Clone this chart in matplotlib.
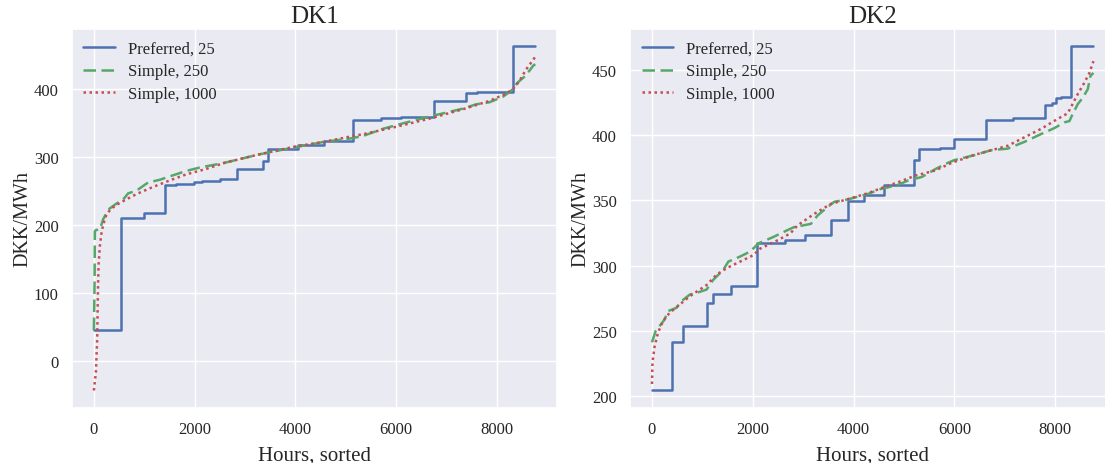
import matplotlib
matplotlib.use("Agg")
import matplotlib.pyplot as plt
import seaborn as sns

sns.set_theme(style="darkgrid")
plt.rcParams["font.family"] = ["Liberation Serif", "DejaVu Serif"]

regions = ["DK1", "DK2"]
series_labels = ["Preferred, 25", "Simple, 250", "Simple, 1000"]
x_label = "Hours, sorted"
y_label = "DKK/MWh"
total_hours = 8760

# ---- DK1 ----
# Preferred, 25: piecewise constant levels (start hour, DKK/MWh)
dk1_pref_hours = [0, 545, 1000, 1415, 1630, 1990, 2140, 2510, 2840, 3350, 3450,
                  4050, 4570, 5150, 5700, 6095, 6740, 7375, 7595, 8315]
dk1_pref_price = [45.5, 210, 217, 258, 260, 263, 264, 266.5, 282, 294, 312,
                  317, 323.5, 353.5, 357, 358.5, 382, 394, 395.5, 462.5]

# Simple, 250
dk1_s250_hours = [0, 15, 20, 40, 120, 185, 250, 317, 449, 581, 680, 845, 1076,
                  1307, 1571, 1835, 2099, 2596, 3258, 3457, 4000, 4583, 5113,
                  5340, 5736, 6132, 6660, 7320, 7584, 7848, 8112, 8277, 8409,
                  8574, 8719, 8760]
dk1_s250_price = [45, 120, 190, 192, 193, 208, 217, 224, 231, 237, 246, 250, 262,
                  266, 272.6, 279, 284, 291, 303, 306, 314, 322, 327,
                  330.5, 341, 349, 359, 370.6, 377, 380, 388, 396.6, 409,
                  419.6, 434, 436]

# Simple, 1000
dk1_s1000_hours = [0, 40, 66, 79, 92, 119, 152, 185, 250, 350, 515, 845, 1175,
                   1505, 1835, 2231, 2596, 3258, 4000, 4583, 5113, 5340, 6000,
                   6660, 7320, 7848, 8178, 8310, 8442, 8574, 8673, 8760]
dk1_s1000_price = [-44, -17, 32, 95, 139, 169, 188, 200, 215, 224, 232, 245, 255.5,
                   265, 274, 282, 291, 303, 315, 322, 330, 333, 344,
                   356, 369.7, 382, 392.7, 399, 411, 428, 438, 447]

# ---- DK2 ----
dk2_pref_hours = [0, 405, 625, 1096, 1216, 1568, 2087, 2633, 3033, 3553, 3885,
                  4209, 4612, 5204, 5302, 5713, 5985, 6620, 7163, 7803, 7935,
                  8016, 8110, 8317]
dk2_pref_price = [204, 241.6, 253.6, 271, 278, 284.6, 317.5, 319.5, 323.8, 334.8,
                  349.3, 354, 362, 381.4, 389.3, 390, 397.5, 411.8, 413.3, 423.5,
                  425, 428.8, 429.5, 468.5]

dk2_s250_hours = [0, 73, 153, 252, 319, 485, 585, 751, 917, 1083, 1216, 1415,
                  1515, 1748, 1947, 2113, 2412, 2678, 2820, 3153, 3287, 3487,
                  3620, 3887, 4287, 4553, 4853, 5087, 5353, 5620, 5820, 6000,
                  6397, 6728, 7059, 7390, 7721, 7986, 8185, 8284, 8350, 8449,
                  8549, 8648, 8701, 8760]
dk2_s250_price = [241, 249.7, 253.6, 258.6, 265, 267.5, 272.6, 277.7, 279.4, 281.5,
                  289, 296.7, 303, 306.9, 310.7, 317, 322, 327, 329.5, 332, 338.5,
                  345, 349, 350.8, 355, 359, 361.5, 365.4, 368, 374, 378, 381,
                  384.8, 388.6, 389.8, 395, 401, 405.6, 410, 411, 416.5, 424,
                  429, 435.5, 445.7, 448]

dk2_s1000_hours = [0, 10, 53, 120, 219, 352, 551, 751, 1083, 1283, 1482, 1748,
                   2013, 2146, 2412, 2744, 2887, 3220, 3553, 3887, 4287, 4553,
                   4887, 5220, 5620, 5953, 6397, 7059, 7721, 8052, 8251, 8449,
                   8582, 8681, 8760]
dk2_s1000_price = [209, 225.6, 238, 248.5, 257.4, 263.7, 270, 276.4, 285, 293, 298,
                   303, 308, 313, 317.8, 324.6, 330.8, 339.7, 347.4, 351, 355.6,
                   359.5, 364, 369, 373, 379, 385, 392, 405, 412.7, 417, 431.7,
                   440.6, 448, 457]

panels = [
    (dk1_pref_hours, dk1_pref_price, dk1_s250_hours, dk1_s250_price,
     dk1_s1000_hours, dk1_s1000_price),
    (dk2_pref_hours, dk2_pref_price, dk2_s250_hours, dk2_s250_price,
     dk2_s1000_hours, dk2_s1000_price),
]

colors = ["#4C72B0", "#55A868", "#C44E52"]

fig = plt.figure(figsize=(11.05, 4.64), dpi=100)
W, H = 1105.0, 464.0
ax_w = 485.6 / W
ax_b = 55.3 / H
ax_h = 378.7 / H
axes = [fig.add_axes([71.8 / W, ax_b, ax_w, ax_h]),
        fig.add_axes([629.9 / W, ax_b, ax_w, ax_h])]

for ax, name, data in zip(axes, regions, panels):
    ph, pp, gh, gp, rh, rp = data
    step_x = list(ph) + [total_hours]
    step_y = list(pp) + [pp[-1]]
    ax.plot(step_x, step_y, drawstyle="steps-post", color=colors[0],
            lw=1.8, label=series_labels[0])
    ax.plot(gh, gp, color=colors[1], lw=1.8, ls=(0, (5, 2.2)),
            label=series_labels[1])
    ax.plot(rh, rp, color=colors[2], lw=1.8, ls=(0, (1, 1.4)),
            label=series_labels[2])
    ax.set_title(name, fontsize=18, pad=5)
    ax.set_xlabel(x_label, fontsize=15, labelpad=6)
    ax.set_ylabel(y_label, fontsize=14.5, labelpad=1)
    ax.tick_params(labelsize=12)
    ax.set_xticks([0, 2000, 4000, 6000, 8000])
    ax.legend(loc="upper left", fontsize=12, frameon=False,
              handlelength=1.9, handletextpad=0.75, labelspacing=0.4,
              borderaxespad=0.3)

fig.savefig("out.png", dpi=100)
